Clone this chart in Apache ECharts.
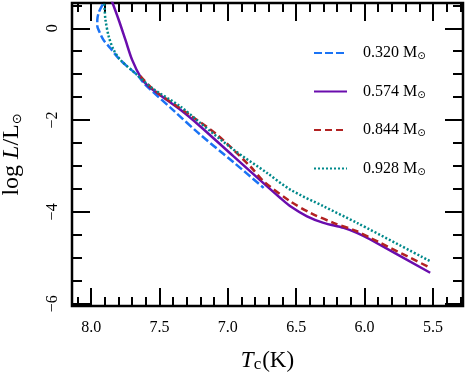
<!DOCTYPE html>
<html><head><meta charset="utf-8">
<script src="https://cdn.jsdelivr.net/npm/echarts@6/dist/echarts.min.js"></script>
<style>html,body{margin:0;padding:0;background:#fff}#c{width:468px;height:373px}</style>
</head><body><div id="c"></div>
<script>
// ---- data ----
const seriesNames = ['0.320 M⊙', '0.574 M⊙', '0.844 M⊙', '0.928 M⊙'];

const tc320   = [7.915, 7.943, 7.955, 7.955, 7.939, 7.910, 7.859, 7.810, 7.749, 7.664, 7.603, 7.400, 7.201, 6.958, 6.738];
const logL320 = [0.52, 0.354, 0.18, 0.05, -0.08, -0.254, -0.435, -0.617, -0.798, -1.015, -1.233, -1.783, -2.320, -2.92, -3.478];

const tc574   = [7.852, 7.798, 7.749, 7.700, 7.640, 7.579, 7.347, 7.201, 6.958, 6.713, 6.616, 6.543, 6.421, 6.300, 6.153, 6.056, 5.958, 5.520];
const logL574 = [0.62, 0.180, -0.254, -0.689, -1.052, -1.270, -1.776, -2.139, -2.791, -3.443, -3.696, -3.878, -4.096, -4.239, -4.348, -4.457, -4.602, -5.326];

const tc844   = [7.640, 7.542, 7.298, 7.079, 6.836, 6.738, 6.543, 6.397, 6.227, 6.056, 5.958, 5.885, 5.520];
const logL844 = [-1.039, -1.341, -1.848, -2.320, -3.009, -3.335, -3.770, -4.022, -4.239, -4.422, -4.565, -4.674, -5.217];

const tc928   = [7.906, 7.901, 7.895, 7.871, 7.835, 7.786, 7.664, 7.554, 7.347, 7.201, 6.958, 6.713, 6.543, 6.300, 6.056, 5.520];
const logL928 = [0.62, 0.398, 0.180, -0.183, -0.472, -0.689, -1.015, -1.304, -1.704, -2.065, -2.646, -3.152, -3.515, -3.878, -4.239, -5.074];

const xMajorTicks = [8.0, 7.5, 7.0, 6.5, 6.0, 5.5];
const xMinorTicks = [8.1, 7.9, 7.8, 7.7, 7.6, 7.4, 7.3, 7.2, 7.1, 6.9, 6.8, 6.7, 6.6, 6.4, 6.3, 6.2, 6.1, 5.9, 5.8, 5.7, 5.6, 5.4, 5.3];
const yMajorTicks = [0, -2, -4, -6];
const yMinorTicks = [0.5, -0.5, -1, -1.5, -2.5, -3, -3.5, -4.5, -5, -5.5];

// ---- chart ----
const X_MIN = 5.28, X_MAX = 8.14, Y_MIN = -6.05, Y_MAX = 0.55;
const SERIF = 'Liberation Serif';
const zip = (a, b) => a.map((v, i) => [v, b[i]]);

function xAx(pos, ticks, len, labels) {
  return {
    type: 'value', gridIndex: 0, position: pos, min: X_MIN, max: X_MAX, inverse: true,
    axisLine: { show: false, onZero: false }, splitLine: { show: false },
    axisTick: { show: true, inside: true, length: len, customValues: ticks, lineStyle: { color: '#000', width: 2 } },
    axisLabel: labels ? { show: true, customValues: ticks, margin: 14, color: '#000', fontFamily: SERIF, fontSize: 16,
      formatter: v => v.toFixed(1) } : { show: false },
    name: labels ? '{i|T}{s|c}{n|(K)}' : '', nameLocation: 'middle', nameGap: 42,
    nameTextStyle: { color: '#000', rich: {
      i: { fontFamily: SERIF, fontStyle: 'italic', fontSize: 23, color: '#000' },
      s: { fontFamily: SERIF, fontSize: 17, color: '#000', verticalAlign: 'bottom', padding: [8, 1, 0, 0] },
      n: { fontFamily: SERIF, fontSize: 23, color: '#000' } } }
  };
}
function yAx(pos, ticks, len, labels) {
  return {
    type: 'value', gridIndex: 0, position: pos, min: Y_MIN, max: Y_MAX,
    axisLine: { show: false, onZero: false }, splitLine: { show: false },
    axisTick: { show: true, inside: true, length: len, customValues: ticks, lineStyle: { color: '#000', width: 2 } },
    axisLabel: labels ? { show: true, customValues: ticks, margin: 11, rotate: 90, color: '#000', fontFamily: SERIF, fontSize: 16,
      formatter: v => v < 0 ? '\u2212' + (-v) : String(v) } : { show: false },
    name: labels ? '{n|log }{i|L}{n|/L}{s|⊙}' : '', nameLocation: 'middle', nameGap: 48, nameRotate: 90,
    nameTextStyle: { color: '#000', rich: {
      n: { fontFamily: SERIF, fontSize: 24, color: '#000' },
      i: { fontFamily: SERIF, fontStyle: 'italic', fontSize: 24, color: '#000' },
      s: { fontFamily: 'DejaVu Sans', fontSize: 13, color: '#000', verticalAlign: 'bottom', padding: [8, 0, 0, 0] } } }
  };
}

const colors = ['#1a73f5', '#6a0dad', '#b22222', '#00898b'];
const dashes = [[8, 3], 'solid', [7, 4], [2, 2]];
const datasets = [zip(tc320, logL320), zip(tc574, logL574), zip(tc844, logL844), zip(tc928, logL928)];

const chart = echarts.init(document.getElementById('c'), null, { renderer: 'canvas' });
chart.setOption({
  animation: false,
  backgroundColor: '#fff',
  grid: { left: 72, right: 5, top: 3, bottom: 67, outerBoundsMode: 'none', containLabel: false,
    show: true, borderColor: '#000', borderWidth: 2.5, backgroundColor: 'transparent' },
  xAxis: [xAx('bottom', xMajorTicks, 18, true), xAx('bottom', xMinorTicks, 9, false), xAx('top', xMajorTicks, 18, false), xAx('top', xMinorTicks, 9, false)],
  yAxis: [yAx('left', yMajorTicks, 18, true), yAx('left', yMinorTicks, 10, false), yAx('right', yMajorTicks, 18, false), yAx('right', yMinorTicks, 10, false)],
  legend: {
    orient: 'vertical', left: 313, top: 45, padding: 0, itemWidth: 33, itemHeight: 14, itemGap: 22,
    data: seriesNames,
    itemStyle: { opacity: 0 },
    formatter: n => '{n|' + n.replace('⊙', '') + '}{s|⊙}',
    textStyle: { color: '#000', padding: [0, 0, 0, 11], rich: {
      n: { fontFamily: SERIF, fontSize: 16, color: '#000' },
      s: { fontFamily: 'DejaVu Sans', fontSize: 10, color: '#000', verticalAlign: 'bottom', padding: [7, 0, 0, 0] } } }
  },
  series: seriesNames.map((name, i) => ({
    name, type: 'line', xAxisIndex: 0, yAxisIndex: 0, data: datasets[i],
    showSymbol: false, symbol: 'none', smooth: 0.3, clip: true, z: 2 + i,
    lineStyle: { color: colors[i], width: 2.5, type: dashes[i] },
    itemStyle: { color: colors[i] }
  }))
});
</script></body></html>
